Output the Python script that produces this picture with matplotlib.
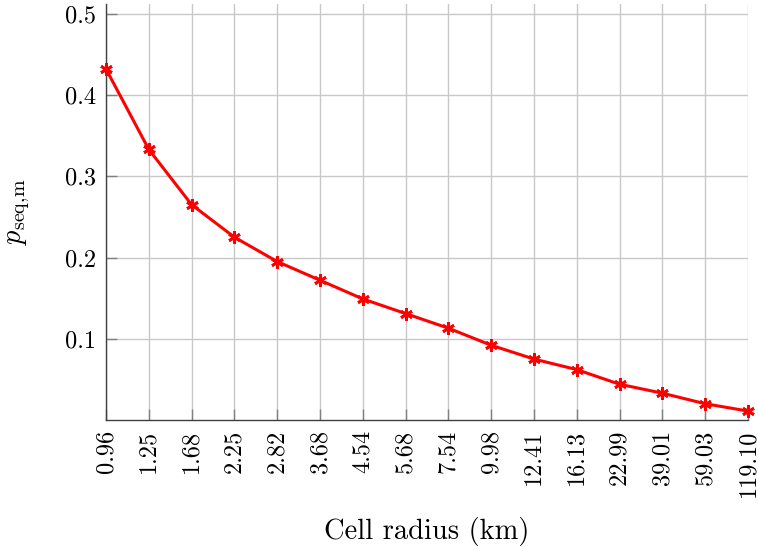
import matplotlib
matplotlib.use("Agg")
import matplotlib.pyplot as plt

radii = ["0.96", "1.25", "1.68", "2.25", "2.82", "3.68", "4.54", "5.68",
         "7.54", "9.98", "12.41", "16.13", "22.99", "39.01", "59.03", "119.10"]
p_seq = [0.432, 0.333, 0.265, 0.225, 0.195, 0.172, 0.149, 0.131,
         0.113, 0.092, 0.075, 0.062, 0.044, 0.033, 0.020, 0.011]
yticks = [0.1, 0.2, 0.3, 0.4, 0.5]

plt.rcParams['font.family'] = ['cmr10', 'DejaVu Serif']
plt.rcParams['mathtext.fontset'] = 'cm'
plt.rcParams['axes.formatter.use_mathtext'] = True

fig = plt.figure(figsize=(7.58, 5.47), dpi=100)
ax = fig.add_axes([106/758, 1-420/547, 642/758, 416/547])

x = list(range(len(radii)))
ax.plot(x, p_seq, color='red', lw=2.2, marker=(6, 2, 0), ms=9, mew=2.0,
        zorder=3, clip_on=False)

ax.set_xlim(0, len(radii)-1)
ax.set_ylim(0, 0.512)
ax.set_xticks(x)
ax.set_xticklabels(radii, rotation=90)
ax.set_yticks(yticks)
ax.set_yticklabels([f"{v:.1f}" for v in yticks])
ax.grid(True, color='#c8c8c8', lw=1.0)
ax.set_axisbelow(True)
for s in ['top', 'right']:
    ax.spines[s].set_visible(False)
for s in ['left', 'bottom']:
    ax.spines[s].set_color('#404040')
    ax.spines[s].set_linewidth(1.0)
ax.tick_params(direction='in', length=8, color='#808080', width=1.0,
               labelsize=17.5, pad=7)
ax.set_xlabel("Cell radius (km)", fontsize=20.5, labelpad=14)
ax.set_ylabel(r"$p_{\mathrm{seq,\!m}}$", fontsize=20.5, labelpad=24)

fig.savefig("out.png", dpi=100)
